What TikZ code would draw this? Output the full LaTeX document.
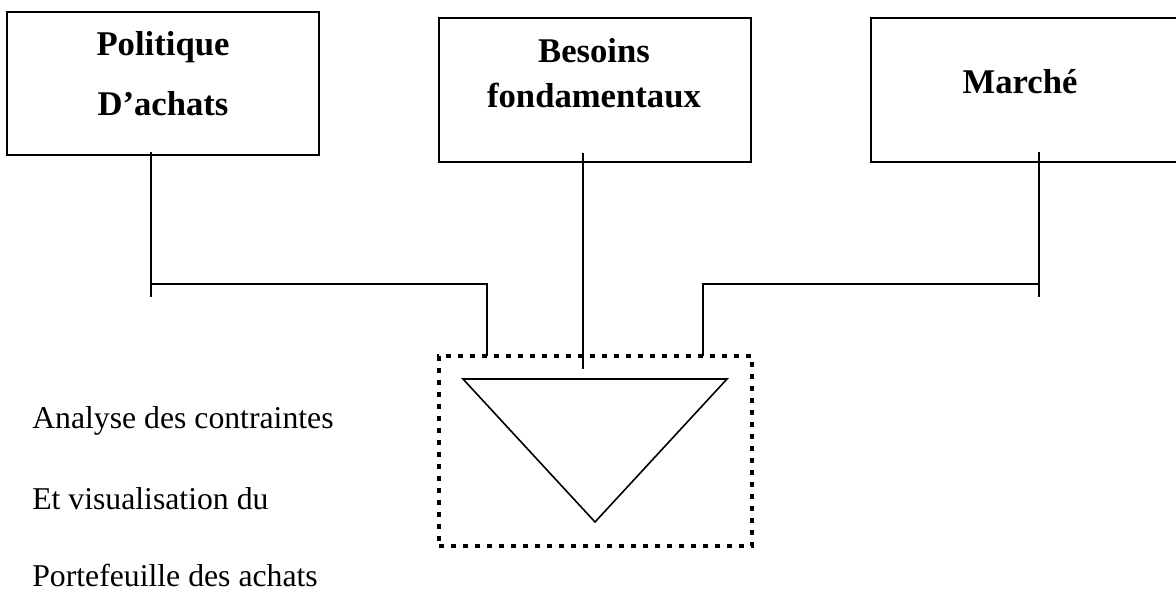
\documentclass[tikz,border=0pt]{standalone}
\usepackage{fontspec}
\setmainfont{Liberation Serif}
\begin{document}
\begin{tikzpicture}[x=0.75pt,y=-0.75pt,
  boxframe/.style={draw,line width=1.6pt,inner sep=0pt},
  title/.style={anchor=base,inner sep=0pt,font=\fontsize{26}{30}\selectfont\bfseries},
  caption/.style={anchor=base west,inner sep=0pt,font=\fontsize{23.8}{28}\selectfont},
  link/.style={line width=1.3pt},
  dottedframe/.style={draw,line width=3.6pt,dash pattern=on 3.6pt off 5.4pt,inner sep=0pt}]
\useasboundingbox (0,0) rectangle (1176,593);

% top boxes
\node[boxframe,minimum width=312*0.75pt,minimum height=143*0.75pt] (pol) at (163,83.5) {};
\node[boxframe,minimum width=312*0.75pt,minimum height=144*0.75pt] (bes) at (595,90) {};
\node[boxframe,minimum width=320*0.75pt,minimum height=144*0.75pt] (mar) at (1031,90) {};

\node[title] (polA) at (163,55) {Politique};
\node[title] (polB) at (163,115) {D’achats};
\node[title] (besA) at (594,62) {Besoins};
\node[title] (besB) at (594,107) {fondamentaux};
\node[title] (marA) at (1020,93) {Marché};

% dotted frame with the triangle
\node[dottedframe,minimum width=313*0.75pt,minimum height=190*0.75pt] (frame) at (595.5,451) {};
\coordinate (tl) at (463,379);
\coordinate (tr) at (727,379);
\coordinate (tb) at (595,522);
\draw[line width=1.2pt,line join=miter] (tl) -- (tr) -- (tb) -- cycle;

% connector points
\coordinate (lTop) at (151,152);
\coordinate (lTick) at (151,297);
\coordinate (lJoin) at (151,284);
\coordinate (lBend) at (487,284);
\coordinate (lEnd) at (487,356);
\coordinate (rTop) at (1039,152);
\coordinate (rTick) at (1039,297);
\coordinate (rJoin) at (1039,284);
\coordinate (rBend) at (703,284);
\coordinate (rEnd) at (703,356);
\coordinate (mTop) at (583,153);
\coordinate (mEnd) at (583,369);

\draw[link] (lTop) -- (lTick);
\draw[link] (lJoin) -- (lBend) -- (lEnd);
\draw[link] (rTop) -- (rTick);
\draw[link] (rJoin) -- (rBend) -- (rEnd);
\draw[link] (mTop) -- (mEnd);

% caption on the left
\node[caption] (c1) at (32,428) {Analyse des contraintes};
\node[caption] (c2) at (32,509) {Et visualisation du};
\node[caption] (c3) at (32,586) {Portefeuille des achats};
\end{tikzpicture}
\end{document}
